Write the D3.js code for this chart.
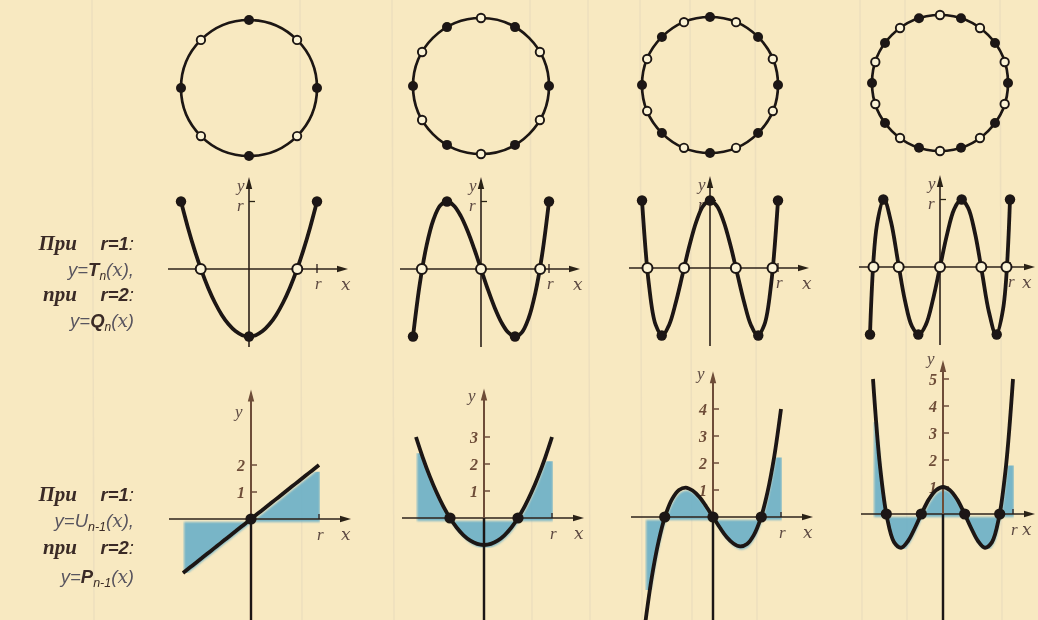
<!DOCTYPE html>
<html>
<head>
<meta charset="utf-8">
<script src="https://cdn.jsdelivr.net/npm/d3@7"></script>
<style>
  html, body { margin: 0; padding: 0; background: #f8e9c1; }
  svg { display: block; }
</style>
</head>
<body>
<svg id="chart" width="1038" height="620"></svg>
<script>
// ---- data ----
const orders = [2, 3, 4, 5];
const xGrid = [-1, -0.9, -0.8, -0.7, -0.6, -0.5, -0.4, -0.3, -0.2, -0.1, 0,
               0.1, 0.2, 0.3, 0.4, 0.5, 0.6, 0.7, 0.8, 0.9, 1];

// T_n(x) sampled on xGrid
const tSeries2 = [1, 0.62, 0.28, -0.02, -0.28, -0.5, -0.68, -0.82, -0.92, -0.98, -1, -0.98, -0.92, -0.82, -0.68, -0.5, -0.28, -0.02, 0.28, 0.62, 1];
const tSeries3 = [-1, -0.22, 0.35, 0.73, 0.94, 1, 0.94, 0.79, 0.57, 0.3, 0, -0.3, -0.57, -0.79, -0.94, -1, -0.94, -0.73, -0.35, 0.22, 1];
const tSeries4 = [1, -0.23, -0.84, -1, -0.84, -0.5, -0.08, 0.34, 0.69, 0.92, 1, 0.92, 0.69, 0.34, -0.08, -0.5, -0.84, -1, -0.84, -0.23, 1];
const tSeries5 = [-1, 0.63, 1, 0.67, 0.08, -0.5, -0.88, -1, -0.85, -0.48, 0, 0.48, 0.85, 1, 0.88, 0.5, -0.08, -0.67, -1, -0.63, 1];

// U_{n-1}(x) sampled on xGrid
const uSeries1 = [-2, -1.8, -1.6, -1.4, -1.2, -1, -0.8, -0.6, -0.4, -0.2, 0, 0.2, 0.4, 0.6, 0.8, 1, 1.2, 1.4, 1.6, 1.8, 2];
const uSeries2 = [3, 2.24, 1.56, 0.96, 0.44, 0, -0.36, -0.64, -0.84, -0.96, -1, -0.96, -0.84, -0.64, -0.36, 0, 0.44, 0.96, 1.56, 2.24, 3];
const uSeries3 = [-4, -2.23, -0.9, 0.06, 0.67, 1, 1.09, 0.98, 0.74, 0.39, 0, -0.39, -0.74, -0.98, -1.09, -1, -0.67, -0.06, 0.9, 2.23, 4];
const uSeries4 = [5, 1.78, -0.13, -1.04, -1.25, -1, -0.51, 0.05, 0.55, 0.88, 1, 0.88, 0.55, 0.05, -0.51, -1, -1.25, -1.04, -0.13, 1.78, 5];

// points on the circle (degrees): solid ones project to extrema, hollow ones to zeros
const solidAngles2 = [0, 90, 180, 270];
const solidAngles3 = [0, 60, 120, 180, 240, 300];
const solidAngles4 = [0, 45, 90, 135, 180, 225, 270, 315];
const solidAngles5 = [0, 36, 72, 108, 144, 180, 216, 252, 288, 324];
const hollowAngles2 = [45, 135, 225, 315];
const hollowAngles3 = [30, 90, 150, 210, 270, 330];
const hollowAngles4 = [22.5, 67.5, 112.5, 157.5, 202.5, 247.5, 292.5, 337.5];
const hollowAngles5 = [18, 54, 90, 126, 162, 198, 234, 270, 306, 342];

// extrema of T_n (x, y) and zeros of T_n
const extremaX = [[-1, 0, 1], [-1, -0.5, 0.5, 1], [-1, -0.71, 0, 0.71, 1], [-1, -0.81, -0.31, 0.31, 0.81, 1]];
const extremaY = [[1, -1, 1], [-1, 1, -1, 1], [1, -1, 1, -1, 1], [-1, 1, -1, 1, -1, 1]];
const tZerosX = [[-0.71, 0.71], [-0.87, 0, 0.87], [-0.92, -0.38, 0.38, 0.92], [-0.95, -0.59, 0, 0.59, 0.95]];

// zeros of U_{n-1}
const uZerosX = [[0], [-0.5, 0.5], [-0.71, 0, 0.71], [-0.81, -0.31, 0.31, 0.81]];

// y tick labels of the lower graphs
const uTicks = [[1, 2], [1, 2, 3], [1, 2, 3, 4], [1, 2, 3, 4, 5]];

// band of y in which the lower graphs are tinted (left half, right half)
const shadeLow = [-2, -1.1, -2.7, -1.3];
const shadeHighLeft = [0.5, 2.4, 2.2, 3.4];
const shadeHighRight = [1.75, 2.1, 2.2, 1.8];

const tSeries = [tSeries2, tSeries3, tSeries4, tSeries5];
const uSeries = [uSeries1, uSeries2, uSeries3, uSeries4];
const solidAngles = [solidAngles2, solidAngles3, solidAngles4, solidAngles5];
const hollowAngles = [hollowAngles2, hollowAngles3, hollowAngles4, hollowAngles5];

// ---- layout ----
const colX = [249, 481, 710, 940];
const circleY = [88, 86, 85, 83];
const radius = 68;
const midAxisY = [269, 269, 268, 267];
const midUnit = 67.5;
const botColX = [251, 484, 713, 943];
const botAxisY = [519, 518, 517, 514];
const botUnit = 27;
const botAxisTop = [4.8, 4.8, 5.4, 5.7];
const botYLabelDrop = [28, 13, 8, 4];
const rightEdge = 1035;

const ink = "#1d1612";
const axisInk = "#2b2119";
const brownInk = "#6e4d38";
const labelInk = "#5d4a42";
const paper = "#fbf3d6";
const tint = "#6aafc8";

const svg = d3.select("#chart");

const defs = svg.append("defs");
defs.append("filter").attr("id", "soft")
  .append("feGaussianBlur").attr("stdDeviation", 1.1);
defs.append("filter").attr("id", "inkSoft")
  .append("feGaussianBlur").attr("stdDeviation", 0.35);

// faint streaks of the paper
const streakX = [92, 300, 392, 530, 588, 640, 690, 755, 860, 905, 1000];
svg.append("g").selectAll("line").data(streakX).join("line")
  .attr("x1", d => d).attr("x2", d => d + 2)
  .attr("y1", 0).attr("y2", 620)
  .attr("stroke", "#d9cfb6").attr("stroke-opacity", 0.35).attr("stroke-width", 1.5);

const tintLayer = svg.append("g");
const root = svg.append("g").attr("filter", "url(#inkSoft)");

function arrowRight(g, x, y, color) {
  g.append("path").attr("d", `M${x},${y} L${x - 11},${y - 3.2} L${x - 11},${y + 3.2} Z`).attr("fill", color);
}
function arrowUp(g, x, y, color) {
  g.append("path").attr("d", `M${x},${y} L${x - 3.2},${y + 12} L${x + 3.2},${y + 12} Z`).attr("fill", color);
}

const lineGen = (xs, ys) => d3.line()
  .x((d, i) => xs(xGrid[i]))
  .y(d => ys(d))
  .curve(d3.curveCatmullRom.alpha(0.5));

orders.forEach((n, k) => {
  const cx = colX[k];
  const unitX = k === 3 ? 70 : 68;

  // ---- circle with marked points ----
  const gc = root.append("g");
  const cy = circleY[k];
  const ang = d3.scaleLinear().domain([0, 360]).range([0, 2 * Math.PI]);
  gc.append("circle").attr("cx", cx).attr("cy", cy).attr("r", radius)
    .attr("fill", "none").attr("stroke", ink).attr("stroke-width", 2.7);
  gc.selectAll(".solid").data(solidAngles[k]).join("circle")
    .attr("cx", d => cx + radius * Math.cos(ang(d)))
    .attr("cy", d => cy - radius * Math.sin(ang(d)))
    .attr("r", 5).attr("fill", ink);
  gc.selectAll(".hollow").data(hollowAngles[k]).join("circle")
    .attr("cx", d => cx + radius * Math.cos(ang(d)))
    .attr("cy", d => cy - radius * Math.sin(ang(d)))
    .attr("r", 4.2).attr("fill", paper).attr("stroke", ink).attr("stroke-width", 1.9);

  // ---- middle graph: T_n ----
  const gm = root.append("g");
  const ay = midAxisY[k];
  const xm = d3.scaleLinear().domain([-1, 1]).range([cx - unitX, cx + unitX]);
  const ym = d3.scaleLinear().domain([-1, 1]).range([ay + midUnit, ay - midUnit]);
  const arrowX = Math.min(cx + 99, rightEdge);

  gm.append("line").attr("x1", cx - 81).attr("x2", arrowX - 4).attr("y1", ay).attr("y2", ay)
    .attr("stroke", axisInk).attr("stroke-width", 1.6);
  arrowRight(gm, arrowX, ay, axisInk);
  gm.append("line").attr("x1", cx).attr("x2", cx).attr("y1", ay + 78).attr("y2", ay - 86)
    .attr("stroke", axisInk).attr("stroke-width", 1.6);
  arrowUp(gm, cx, ay - 92, axisInk);
  // r marks
  gm.append("line").attr("x1", xm(1)).attr("x2", xm(1)).attr("y1", ay - 5).attr("y2", ay + 4)
    .attr("stroke", axisInk).attr("stroke-width", 1.3);
  gm.append("line").attr("x1", cx).attr("x2", cx + 6).attr("y1", ym(1)).attr("y2", ym(1))
    .attr("stroke", axisInk).attr("stroke-width", 1.3);
  gm.append("text").attr("x", cx - 12).attr("y", ay - 78).text("y")
    .attr("class", "axlab");
  gm.append("text").attr("x", cx - 12).attr("y", ym(1) + 9).text("r")
    .attr("class", "axlab");
  gm.append("text").attr("x", xm(1) - 2).attr("y", ay + 20).text("r")
    .attr("class", "axlab");
  gm.append("text").attr("x", Math.min(cx + 92, rightEdge - 13)).attr("y", ay + 21).text("x")
    .attr("class", "axx");

  gm.append("path").datum(tSeries[k]).attr("d", lineGen(xm, ym))
    .attr("fill", "none").attr("stroke", ink).attr("stroke-width", 3.8)
    .attr("stroke-linejoin", "round").attr("stroke-linecap", "round");
  gm.selectAll(".ext").data(extremaX[k]).join("circle")
    .attr("cx", d => xm(d)).attr("cy", (d, i) => ym(extremaY[k][i]))
    .attr("r", 5.2).attr("fill", ink);
  gm.selectAll(".zero").data(tZerosX[k]).join("circle")
    .attr("cx", d => xm(d)).attr("cy", ym(0))
    .attr("r", 5).attr("fill", paper).attr("stroke", ink).attr("stroke-width", 2);

  // ---- lower graph: U_{n-1} ----
  const gb = root.append("g");
  const bx = botColX[k];
  const by = botAxisY[k];
  const xb = d3.scaleLinear().domain([-1, 1]).range([bx - unitX, bx + unitX]);
  const yb = d3.scaleLinear().domain([0, 1]).range([by, by - botUnit]);

  // tint band: one rectangle per half of the graph
  const clipId = "band" + k;
  const clip = defs.append("clipPath").attr("id", clipId);
  clip.append("rect")
    .attr("x", xb(-1)).attr("width", xb(0) - xb(-1))
    .attr("y", yb(shadeHighLeft[k])).attr("height", yb(shadeLow[k]) - yb(shadeHighLeft[k]));
  clip.append("rect")
    .attr("x", xb(0)).attr("width", xb(1) - xb(0) + 1)
    .attr("y", yb(shadeHighRight[k])).attr("height", yb(shadeLow[k]) - yb(shadeHighRight[k]));
  const area = d3.area()
    .x((d, i) => xb(xGrid[i]))
    .y0(yb(0)).y1(d => yb(d))
    .curve(d3.curveCatmullRom.alpha(0.5));
  tintLayer.append("g").attr("clip-path", `url(#${clipId})`)
    .append("path").datum(uSeries[k]).attr("d", area)
    .attr("transform", "translate(1,3)")
    .attr("fill", tint).attr("fill-opacity", 0.9).attr("filter", "url(#soft)");

  // axes
  const bArrowX = Math.min(bx + 100, rightEdge);
  gb.append("line").attr("x1", bx - 82).attr("x2", bArrowX - 4).attr("y1", by).attr("y2", by)
    .attr("stroke", axisInk).attr("stroke-width", 1.6);
  arrowRight(gb, bArrowX, by, axisInk);
  gb.append("line").attr("x1", bx).attr("x2", bx).attr("y1", by).attr("y2", 622)
    .attr("stroke", ink).attr("stroke-width", 2.4);
  gb.append("line").attr("x1", bx).attr("x2", bx).attr("y1", by).attr("y2", yb(botAxisTop[k]) + 8)
    .attr("stroke", brownInk).attr("stroke-width", 2);
  arrowUp(gb, bx, yb(botAxisTop[k]), brownInk);
  gb.selectAll(".tick").data(uTicks[k]).join("line")
    .attr("x1", bx).attr("x2", bx + 6).attr("y1", d => yb(d)).attr("y2", d => yb(d))
    .attr("stroke", brownInk).attr("stroke-width", 1.5);
  gb.selectAll(".tlab").data(uTicks[k]).join("text")
    .attr("x", bx - 6).attr("y", d => yb(d) + 6).attr("text-anchor", "end")
    .attr("class", "ticklab").text(d => d);
  gb.append("line").attr("x1", xb(1)).attr("x2", xb(1)).attr("y1", by - 5).attr("y2", by)
    .attr("stroke", axisInk).attr("stroke-width", 1.3);
  gb.append("text").attr("x", bx - 16).attr("y", yb(botAxisTop[k]) + botYLabelDrop[k]).text("y")
    .attr("class", "axlab");
  gb.append("text").attr("x", xb(1) - 2).attr("y", by + 21).text("r")
    .attr("class", "axlab");
  gb.append("text").attr("x", Math.min(bx + 90, rightEdge - 13)).attr("y", by + 21).text("x")
    .attr("class", "axx");

  gb.append("path").datum(uSeries[k]).attr("d", lineGen(xb, yb))
    .attr("fill", "none").attr("stroke", ink).attr("stroke-width", 3.8)
    .attr("stroke-linejoin", "round").attr("stroke-linecap", "butt");
  gb.selectAll(".uz").data(uZerosX[k]).join("circle")
    .attr("cx", d => xb(d)).attr("cy", yb(0))
    .attr("r", 5.6).attr("fill", ink);
});

// ---- captions ----
svg.selectAll(".axlab").attr("font-family", "Liberation Serif").attr("font-style", "italic")
  .attr("font-size", 17).attr("fill", labelInk);
svg.selectAll(".axx").attr("font-family", "DejaVu Serif").attr("font-style", "italic")
  .attr("font-size", 17).attr("fill", labelInk);
svg.selectAll(".ticklab").attr("font-family", "Liberation Serif").attr("font-style", "italic")
  .attr("font-weight", "bold").attr("font-size", 16).attr("fill", brownInk);

const cap = svg.append("g").attr("font-size", 18.5).attr("text-anchor", "end").attr("filter", "url(#inkSoft)");
function captionLine(y, parts) {
  const t = cap.append("text").attr("x", 134).attr("y", y);
  parts.forEach(p => {
    const s = t.append("tspan").text(p.t)
      .attr("font-family", p.f || "Liberation Sans")
      .attr("font-style", "italic")
      .attr("font-weight", p.b ? "bold" : "normal")
      .attr("fill", p.c || "#3a2c26");
    if (p.dy) s.attr("dy", p.dy);
    if (p.fs) s.attr("font-size", p.fs);
  });
}
const soft = "#58545e";
captionLine(250, [{t: "При", f: "Liberation Serif", b: true, fs: 21}, {t: "\u2003 r=1", b: true}, {t: ":"}]);
captionLine(276, [{t: "y=", c: soft}, {t: "T", b: true}, {t: "n", fs: 12, dy: 4}, {t: "(", dy: -4, c: soft}, {t: "x", f: "DejaVu Serif", c: soft}, {t: "),", c: soft}]);
captionLine(301, [{t: "при", f: "Liberation Serif", b: true, fs: 21}, {t: "\u2003 r=2", b: true}, {t: ":"}]);
captionLine(327, [{t: "y=", c: soft}, {t: "Q", b: true}, {t: "n", fs: 12, dy: 4}, {t: "(", dy: -4, c: soft}, {t: "x", f: "DejaVu Serif", c: soft}, {t: ")", c: soft}]);

captionLine(501, [{t: "При", f: "Liberation Serif", b: true, fs: 21}, {t: "\u2003 r=1", b: true}, {t: ":"}]);
captionLine(527, [{t: "y=", c: soft}, {t: "U", c: soft}, {t: "n-1", fs: 12.5, dy: 4}, {t: "(", dy: -4, c: soft}, {t: "x", f: "DejaVu Serif", c: soft}, {t: "),", c: soft}]);
captionLine(554, [{t: "при", f: "Liberation Serif", b: true, fs: 21}, {t: "\u2003 r=2", b: true}, {t: ":"}]);
captionLine(583, [{t: "y=", c: soft}, {t: "P", b: true}, {t: "n-1", fs: 12.5, dy: 4}, {t: "(", dy: -4, c: soft}, {t: "x", f: "DejaVu Serif", c: soft}, {t: ")", c: soft}]);
</script>
</body>
</html>
